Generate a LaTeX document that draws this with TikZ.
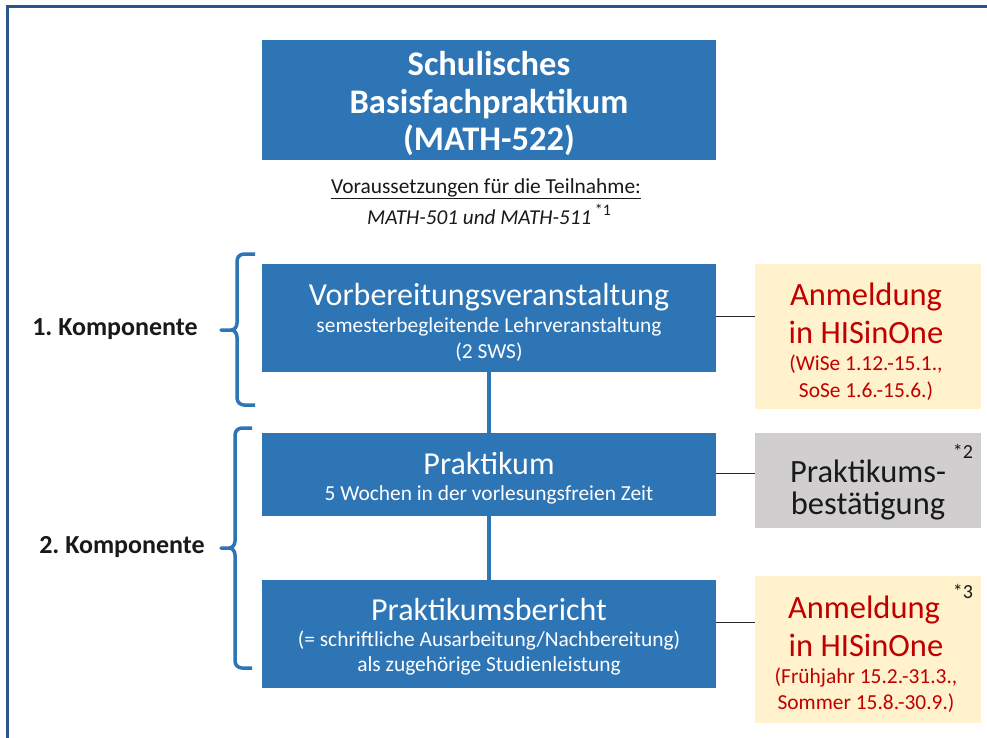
\documentclass[tikz,border=0pt]{standalone}
\usepackage{fontspec}
\setmainfont{Carlito}
\usetikzlibrary{calc}
\frenchspacing
\definecolor{boxblue}{HTML}{2E75B6}
\definecolor{framecol}{HTML}{2B5689}
\definecolor{notefill}{HTML}{FFF2CC}
\definecolor{grayfill}{HTML}{D0CECE}
\definecolor{redtext}{HTML}{C00000}
\newcommand{\fs}[1]{\fontsize{#1}{#1}\selectfont}
\tikzset{
  bluebox/.style={fill=boxblue, draw=none, inner sep=0pt, anchor=north west},
  notebox/.style={fill=notefill, draw=none, inner sep=0pt, anchor=north west},
  graybox/.style={fill=grayfill, draw=none, inner sep=0pt, anchor=north west},
  txt/.style={anchor=base, inner sep=0pt, align=center},
  wtxt/.style={txt, text=white},
  rtxt/.style={txt, text=redtext},
  ktxt/.style={txt, text=black!90},
  vlink/.style={draw=boxblue, line width=3.5pt},
  hlink/.style={draw=black!85, line width=1pt},
  bracestyle/.style={draw=boxblue, line width=3.5pt, line join=round, line cap=butt},
}
\begin{document}
\begin{tikzpicture}[x=1pt,y=-1pt]
\useasboundingbox[fill=white] (0,0) rectangle (987,737);
% frame
\draw[framecol, line width=3pt] (7,745) -- (7,6) -- (995,6);

% main boxes
\node[bluebox, minimum width=454pt, minimum height=120pt] (t) at (262,40) {};
\node[bluebox, minimum width=454pt, minimum height=108pt] (b1) at (262,264) {};
\node[bluebox, minimum width=454pt, minimum height=83pt] (b2) at (262,433) {};
\node[bluebox, minimum width=454pt, minimum height=108pt] (b3) at (262,580) {};
\node[notebox, minimum width=226pt, minimum height=145pt] (y1) at (755,264) {};
\node[graybox, minimum width=226pt, minimum height=95pt] (g) at (755,433) {};
\node[notebox, minimum width=226pt, minimum height=147pt] (y2) at (755,576) {};

% connectors
\draw[vlink] (b1.south) -- (b2.north);
\draw[vlink] (b2.south) -- (b3.north);
\draw[hlink] ([yshift=1.5pt]b1.east) -- ([yshift=1.5pt]b1.east -| y1.west);
\draw[hlink] ([yshift=1.5pt]b2.east) -- ([yshift=1.5pt]b2.east -| g.west);
\draw[hlink] ([yshift=12pt]b3.east) -- ([yshift=12pt]b3.east -| y2.west);

% title text
\node[wtxt, font=\fs{34.5}\bfseries] (t1) at (489,75) {Schulisches};
\node[wtxt, font=\fs{34.5}\bfseries] (t2) at (489,113) {Basisfachpraktikum};
\node[wtxt, font=\fs{34.5}\bfseries] (t3) at (489,150) {(MATH-522)};

% prerequisites
\node[ktxt, font=\fs{21.4}] (v1) at (486,193) {\underline{Voraussetzungen für die Teilnahme:}};
\node[ktxt, font=\fs{21.2}] (v2) at (489,224) {\textit{MATH-501 und MATH-511}\,\raisebox{9pt}{\fs{16}*1}};

% box 1 text
\node[wtxt, font=\fs{32}] (b1a) at (489,305) {Vorbereitungsveranstaltung};
\node[wtxt, font=\fs{21.4}] (b1b) at (489,332) {semesterbegleitende Lehrveranstaltung};
\node[wtxt, font=\fs{21.4}] (b1c) at (489,358) {(2 SWS)};

% box 2 text
\node[wtxt, font=\fs{32}] (b2a) at (489,474) {Praktikum};
\node[wtxt, font=\fs{21.4}] (b2b) at (489,500) {5 Wochen in der vorlesungsfreien Zeit};

% box 3 text
\node[wtxt, font=\fs{32}] (b3a) at (489,620) {Praktikumsbericht};
\node[wtxt, font=\fs{21.4}] (b3b) at (489,646) {(= schriftliche Ausarbeitung/Nachbereitung)};
\node[wtxt, font=\fs{21.4}] (b3c) at (489,671) {als zugehörige Studienleistung};

% yellow box 1
\node[rtxt, font=\fs{32.5}] (y1a) at (866,305) {Anmeldung};
\node[rtxt, font=\fs{32.5}] (y1b) at (866,343) {in HISinOne};
\node[rtxt, font=\fs{21.4}] (y1c) at (866,370) {(WiSe 1.12.-15.1.,};
\node[rtxt, font=\fs{21.4}] (y1d) at (866,397) {SoSe 1.6.-15.6.)};

% gray box
\node[ktxt, font=\fs{32.5}] (ga) at (868,482) {Praktikums-};
\node[ktxt, font=\fs{32.5}] (gb) at (868,514) {bestätigung};
\node[ktxt, font=\fs{20}] (gn) at (963,458) {*2};

% yellow box 2
\node[rtxt, font=\fs{32.5}] (y2a) at (864,618) {Anmeldung};
\node[rtxt, font=\fs{32.5}] (y2b) at (866,656) {in HISinOne};
\node[rtxt, font=\fs{21.4}] (y2c) at (866,683) {(Frühjahr 15.2.-31.3.,};
\node[rtxt, font=\fs{21.4}] (y2d) at (866,709) {Sommer 15.8.-30.9.)};
\node[ktxt, font=\fs{20}] (yn) at (963,598) {*3};

% components
\node[ktxt, font=\fs{26}\bfseries] (k1) at (115,335) {1. Komponente};
\node[ktxt, font=\fs{26}\bfseries] (k2) at (122,553) {2. Komponente};

% braces
\draw[bracestyle] (255,254) -- (244,254) to[out=180,in=90] (237,261) -- (237,323)
  to[out=-90,in=0] (231,330) -- (221,330) -- (231,330) to[out=0,in=90] (237,337)
  -- (237,398) to[out=-90,in=180] (244,405) -- (255,405);
\draw[bracestyle] (252,428) -- (242,428) to[out=180,in=90] (235,435) -- (235,541)
  to[out=-90,in=0] (229,548) -- (221,548) -- (229,548) to[out=0,in=90] (235,555)
  -- (235,661) to[out=-90,in=180] (242,668) -- (252,668);
\end{tikzpicture}
\end{document}
